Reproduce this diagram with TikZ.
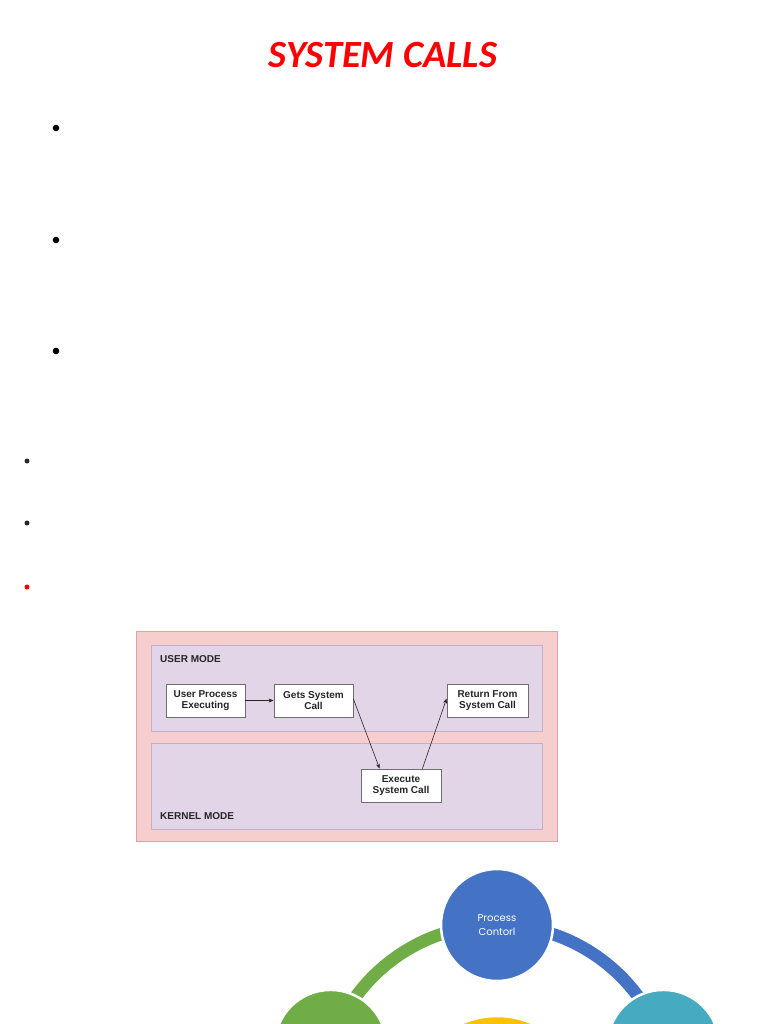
\documentclass[tikz,border=0pt]{standalone}
\usepackage{fontspec}
\setmainfont{Liberation Sans}
\newfontfamily\titlefont{Carlito}
\newfontfamily\circfont{Poppins}
\usetikzlibrary{arrows.meta}
\definecolor{titlered}{RGB}{255,0,0}
\definecolor{framefill}{RGB}{246,206,206}
\definecolor{framedraw}{RGB}{232,160,160}
\definecolor{modefill}{RGB}{226,213,231}
\definecolor{modedraw}{RGB}{196,176,204}
\definecolor{boxdraw}{RGB}{110,110,110}
\definecolor{cblue}{RGB}{68,114,196}
\definecolor{cgreen}{RGB}{112,173,71}
\definecolor{cteal}{RGB}{70,170,192}
\definecolor{cyellow}{RGB}{255,192,0}
\definecolor{bulletdark}{RGB}{40,40,40}
\tikzset{
  titlestyle/.style={text=titlered, font=\titlefont\bfseries\itshape\fontsize{38.5}{46}\selectfont, inner sep=0pt},
  bigdot/.style={circle, fill=black, inner sep=0pt, minimum size=6.6pt},
  smalldot/.style={circle, fill=bulletdark, inner sep=0pt, minimum size=5pt},
  reddot/.style={circle, fill=titlered, inner sep=0pt, minimum size=5pt},
  frame/.style={draw=framedraw, fill=framefill, line width=1pt, inner sep=0pt},
  modebox/.style={draw=modedraw, fill=modefill, line width=0.8pt, inner sep=0pt},
  modelabel/.style={font=\bfseries\fontsize{10}{11}\selectfont, text=black!85, anchor=west, inner sep=0pt},
  stepbox/.style={draw=boxdraw, fill=white, line width=0.8pt, align=center, inner sep=0pt,
     font=\bfseries\fontsize{10}{10.7}\selectfont, text=black!85},
  arr/.style={-{Stealth[length=5pt,width=4pt]}, line width=0.6pt, draw=black!85},
  ringarc/.style={line width=12.5pt},
  bubble/.style={circle, draw=white, line width=2.5pt, inner sep=0pt, minimum size=112pt,
     align=center, text=white, font=\circfont\fontsize{10}{13.5}\selectfont}
}
\begin{document}
\begin{tikzpicture}[x=1pt,y=-1pt]
\useasboundingbox (0,0) rectangle (768,1024);
\clip (0,0) rectangle (768,1024);
\fill[white] (0,0) rectangle (768,1024);

% title
\node[titlestyle, anchor=base] (title) at (383,68) {SYSTEM CALLS};

% bullets
\node[bigdot] (b1) at (56,128) {};
\node[bigdot] (b2) at (56,240) {};
\node[bigdot] (b3) at (56,351) {};
\node[smalldot] (b4) at (27,461) {};
\node[smalldot] (b5) at (27,523) {};
\node[reddot] (b6) at (27,587) {};

% mode diagram
\node[frame, minimum width=421pt, minimum height=210pt] (frame) at (346.5,736) {};
\node[modebox, minimum width=391pt, minimum height=86pt] (user) at (346.5,688) {};
\node[modebox, minimum width=391pt, minimum height=86pt] (kernel) at (346.5,786) {};
\node[modelabel] (userlbl) at (160,659) {USER MODE};
\node[modelabel] (kernellbl) at (160,816) {KERNEL MODE};

\node[stepbox, minimum width=79pt, minimum height=33pt] (upe) at (205.5,700.5) {User Process\\Executing};
\node[stepbox, minimum width=79pt, minimum height=33pt] (gsc) at (313.5,700.5) {Gets System\\Call};
\node[stepbox, minimum width=81pt, minimum height=33pt] (ret) at (487.5,700.5) {Return From\\System Call};
\node[stepbox, minimum width=80pt, minimum height=33pt] (exe) at (401,785.5) {Execute\\System Call};

\draw[arr] (upe) -- (gsc);
\draw[arr] ([yshift=1.5pt]gsc.east) -- ([xshift=19pt]exe.north west);
\draw[arr] ([xshift=-19pt]exe.north east) -- ([yshift=2pt]ret.west);

% cycle diagram (pentagon ring, centre (497,1100), radius 175)
\coordinate (ringc) at (497,1105);
\coordinate (pleft) at (330.6,1045.9);
\coordinate (ptop) at (497,925);
\coordinate (pright) at (663.4,1045.9);
\draw[ringarc, cgreen] (pleft) arc[start angle=198, end angle=270, radius=175];
\draw[ringarc, cblue] (ptop) arc[start angle=270, end angle=342, radius=175];

\node[bubble, fill=cyellow, minimum size=178pt] (yellow) at (ringc) {};
\node[bubble, fill=cgreen] (left) at (pleft) {};
\node[bubble, fill=cteal] (right) at (pright) {};
\node[bubble, fill=cblue] (top) at (ptop) {Process\\Contorl};
\end{tikzpicture}
\end{document}
